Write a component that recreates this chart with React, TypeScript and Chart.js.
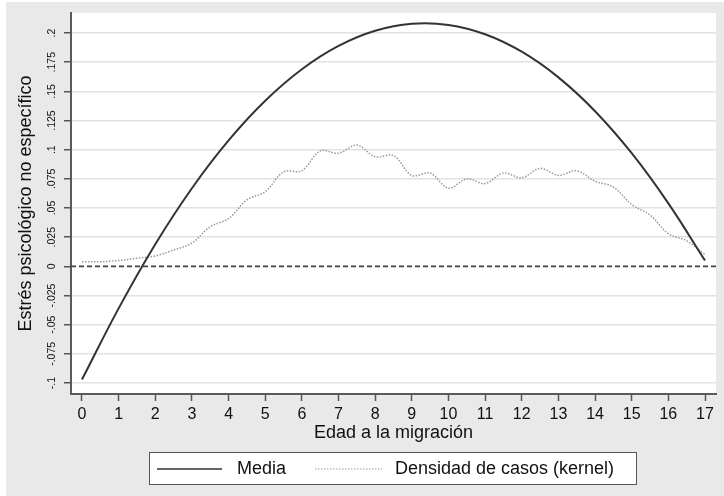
import React, { useEffect, useRef } from "react";
import { Chart, registerables } from "chart.js";

Chart.register(...registerables);

// ---- Data ----
const mediaAges = [0, 1, 2, 3, 4, 5, 6, 7, 8, 9, 10, 11, 12, 13, 14, 15, 16, 17];
const mediaValues = [
  -0.097, -0.036, 0.019, 0.067, 0.108, 0.142, 0.169, 0.189, 0.202, 0.208,
  0.207, 0.199, 0.184, 0.162, 0.133, 0.097, 0.054, 0.005,
];

const densityAges = [
  0, 0.5, 1, 1.5, 2, 2.5, 3, 3.5, 4, 4.5, 5, 5.5, 6, 6.5, 7, 7.5, 8, 8.5, 9,
  9.5, 10, 10.5, 11, 11.5, 12, 12.5, 13, 13.5, 14, 14.5, 15, 15.5, 16, 16.5, 17,
];
const densityValues = [
  0.004, 0.004, 0.005, 0.007, 0.009, 0.014, 0.02, 0.034, 0.041, 0.057, 0.064,
  0.081, 0.082, 0.099, 0.097, 0.104, 0.094, 0.095, 0.078, 0.08, 0.067, 0.075,
  0.071, 0.08, 0.076, 0.084, 0.078, 0.082, 0.073, 0.068, 0.053, 0.044, 0.028,
  0.022, 0.01,
];

const xTickValues = [0, 1, 2, 3, 4, 5, 6, 7, 8, 9, 10, 11, 12, 13, 14, 15, 16, 17];
const yTickValues = [-0.1, -0.075, -0.05, -0.025, 0, 0.025, 0.05, 0.075, 0.1, 0.125, 0.15, 0.175, 0.2];
const yTickLabels = ["-.1", "-.075", "-.05", "-.025", "0", ".025", ".05", ".075", ".1", ".125", ".15", ".175", ".2"];

const seriesLabels = ["Media", "Densidad de casos (kernel)"];
const xTitle = "Edad a la migración";
const yTitle = "Estrés psicológico no específico";

const FONT = "'Liberation Sans', Arial, Helvetica, sans-serif";

export default function App() {
  const ref = useRef<HTMLCanvasElement>(null);

  useEffect(() => {
    const canvas = ref.current;
    if (!canvas) return;

    const bgPlugin = {
      id: "bgPlugin",
      beforeDraw(chart: any) {
        const { ctx, chartArea: ca, width, height } = chart;
        ctx.save();
        ctx.fillStyle = "#ffffff";
        ctx.fillRect(0, 0, width, height);
        ctx.fillStyle = "#e9e9e9";
        ctx.fillRect(6, 2, width - 6, height - 2);
        ctx.fillStyle = "#ffffff";
        ctx.fillRect(ca.left, ca.top, ca.right - ca.left, ca.bottom - ca.top);
        ctx.restore();
      },
    };

    const zeroPlugin = {
      id: "zeroPlugin",
      beforeDatasetsDraw(chart: any) {
        const { ctx, chartArea: ca } = chart;
        const y = chart.scales.y.getPixelForValue(0);
        ctx.save();
        ctx.strokeStyle = "#444";
        ctx.lineWidth = 1.8;
        ctx.setLineDash([5, 3]);
        ctx.beginPath();
        ctx.moveTo(ca.left, y);
        ctx.lineTo(ca.right, y);
        ctx.stroke();
        ctx.restore();
      },
    };

    const legendPlugin = {
      id: "boxLegend",
      afterDraw(chart: any) {
        const { ctx } = chart;
        const ds = chart.data.datasets;
        ctx.save();
        ctx.fillStyle = "#ffffff";
        ctx.fillRect(149, 452, 488, 33);
        ctx.strokeStyle = "#555";
        ctx.lineWidth = 1;
        ctx.strokeRect(149.5, 452.5, 487, 32);
        const yc = 469;
        const items = [
          { x0: 157, x1: 222, tx: 237 },
          { x0: 315, x1: 382, tx: 395 },
        ];
        items.forEach((it, i) => {
          const d = ds[i];
          ctx.strokeStyle = d.borderColor;
          ctx.lineWidth = i === 0 ? 1.6 : 1.2;
          ctx.setLineDash(d.borderDash || []);
          ctx.beginPath();
          ctx.moveTo(it.x0, yc);
          ctx.lineTo(it.x1, yc);
          ctx.stroke();
          ctx.setLineDash([]);
          ctx.fillStyle = "#111";
          ctx.font = `18px ${FONT}`;
          ctx.textBaseline = "middle";
          ctx.textAlign = "left";
          ctx.fillText(d.label, it.tx, yc);
        });
        ctx.restore();
      },
    };

    const chart = new Chart(canvas, {
      type: "line",
      data: {
        datasets: [
          {
            label: seriesLabels[0],
            data: mediaAges.map((x, i) => ({ x, y: mediaValues[i] })),
            borderColor: "#333333",
            borderWidth: 2,
            pointRadius: 0,
            tension: 0.4,
            fill: false,
          },
          {
            label: seriesLabels[1],
            data: densityAges.map((x, i) => ({ x, y: densityValues[i] })),
            borderColor: "#9a9a9a",
            borderWidth: 1.5,
            borderDash: [1.5, 1.5],
            pointRadius: 0,
            tension: 0.35,
            fill: false,
          },
        ],
      },
      options: {
        animation: false,
        responsive: false,
        devicePixelRatio: 1,
        layout: { padding: { left: 0, top: 13, right: 8, bottom: 47 } },
        plugins: {
          legend: { display: false },
          tooltip: { enabled: false },
        },
        scales: {
          x: {
            type: "linear",
            min: -0.3,
            max: 17.3,
            afterBuildTicks(scale: any) {
              scale.ticks = xTickValues.map((v) => ({ value: v }));
            },
            afterFit(scale: any) {
              scale.height = 55;
            },
            ticks: {
              autoSkip: false,
              maxRotation: 0,
              minRotation: 0,
              padding: 4,
              color: "#111",
              font: { family: FONT, size: 16 },
              callback: (v: any) => String(v),
            },
            grid: {
              drawOnChartArea: false,
              drawTicks: true,
              tickLength: 7,
              tickColor: "#555",
              tickWidth: 1.5,
            },
            border: { display: true, color: "#5a5a5a", width: 2 },
            title: {
              display: true,
              text: xTitle,
              color: "#111",
              font: { family: FONT, size: 18 },
              padding: { top: 0, bottom: 5 },
            },
          },
          y: {
            type: "linear",
            min: -0.1094,
            max: 0.2172,
            afterBuildTicks(scale: any) {
              scale.ticks = yTickValues.map((v) => ({ value: v }));
            },
            afterFit(scale: any) {
              scale.width = 71;
            },
            ticks: {
              minRotation: 90,
              maxRotation: 90,
              crossAlign: "center",
              padding: 0,
              color: "#111",
              font: { family: FONT, size: 10.5 },
              callback: (v: any) => {
                const idx = yTickValues.findIndex((t) => Math.abs(t - v) < 1e-9);
                return idx >= 0 ? yTickLabels[idx] : "";
              },
            },
            grid: {
              color: (ctx: any) =>
                ctx.tick && Math.abs(ctx.tick.value) < 1e-9 ? "rgba(0,0,0,0)" : "#e2e2e2",
              lineWidth: 1.5,
              drawTicks: true,
              tickLength: 7,
              tickColor: "#555",
              tickWidth: 1.5,
            },
            border: { display: true, color: "#5a5a5a", width: 2 },
            title: {
              display: true,
              text: yTitle,
              color: "#111",
              font: { family: FONT, size: 18 },
              padding: { top: 15, bottom: 0 },
            },
          },
        },
      },
      plugins: [bgPlugin, zeroPlugin, legendPlugin],
    } as any);

    return () => chart.destroy();
  }, []);

  return (
    <div style={{ position: "fixed", left: 0, top: 0, width: 724, height: 496 }}>
      <canvas ref={ref} width={724} height={496} style={{ display: "block" }} />
    </div>
  );
}
